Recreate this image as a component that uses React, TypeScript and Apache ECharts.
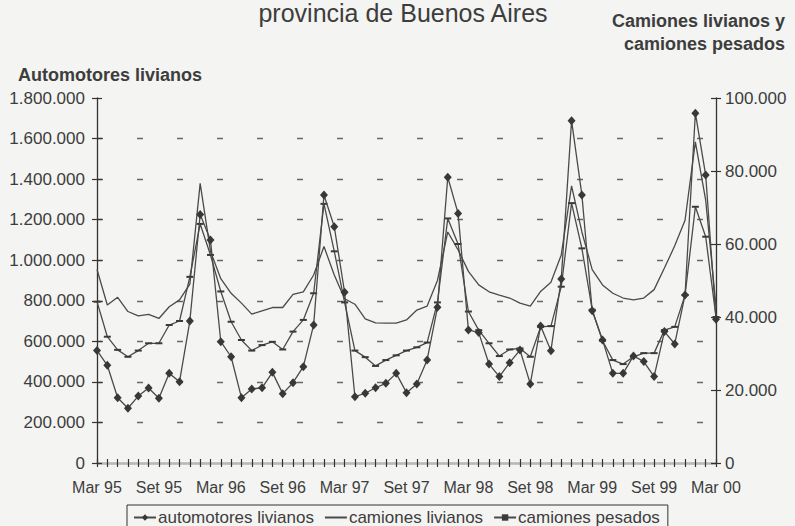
import React, { useEffect, useRef } from 'react';
import * as echarts from 'echarts';

const categories = [
  'Mar 95', 'Abr 95', 'May 95', 'Jun 95', 'Jul 95', 'Ago 95', 'Set 95', 'Oct 95', 'Nov 95', 'Dic 95', 'Ene 96', 'Feb 96',
  'Mar 96', 'Abr 96', 'May 96', 'Jun 96', 'Jul 96', 'Ago 96', 'Set 96', 'Oct 96', 'Nov 96', 'Dic 96', 'Ene 97', 'Feb 97',
  'Mar 97', 'Abr 97', 'May 97', 'Jun 97', 'Jul 97', 'Ago 97', 'Set 97', 'Oct 97', 'Nov 97', 'Dic 97', 'Ene 98', 'Feb 98',
  'Mar 98', 'Abr 98', 'May 98', 'Jun 98', 'Jul 98', 'Ago 98', 'Set 98', 'Oct 98', 'Nov 98', 'Dic 98', 'Ene 99', 'Feb 99',
  'Mar 99', 'Abr 99', 'May 99', 'Jun 99', 'Jul 99', 'Ago 99', 'Set 99', 'Oct 99', 'Nov 99', 'Dic 99', 'Ene 00', 'Feb 00',
  'Mar 00',
];

// left axis
const automotoresLivianos = [
  555000, 482000, 322000, 270000, 330000, 370000, 319000, 442000, 401000, 700000, 1225000, 1100000,
  598000, 524000, 322000, 365000, 371000, 447000, 342000, 396000, 475000, 681000, 1322000, 1165000,
  842000, 327000, 344000, 371000, 393000, 442000, 347000, 390000, 508000, 768000, 1409000, 1231000,
  656000, 643000, 488000, 426000, 495000, 557000, 390000, 676000, 554000, 907000, 1688000, 1322000,
  751000, 607000, 442000, 442000, 528000, 500000, 426000, 648000, 587000, 829000, 1725000, 1420000,
  709000,
];

// right axis
const camionesLivianos = [
  53000, 43300, 45400, 41500, 40300, 40700, 39600, 42800, 44700, 49000, 76600, 58000,
  50500, 46500, 43800, 40800, 41700, 42600, 42600, 46200, 46900, 51500, 59300, 51500,
  45000, 43500, 39500, 38400, 38300, 38300, 39200, 41900, 43000, 50000, 63300, 58400,
  52500, 48800, 46900, 46000, 45200, 43800, 43000, 47000, 49500, 57000, 75900, 63300,
  53000, 48800, 46500, 45200, 44700, 45200, 47500, 53400, 59500, 66500, 88000, 72000,
  43000,
];

const camionesPesados = [
  44200, 34600, 31000, 29100, 30800, 32800, 32800, 37800, 38900, 51000, 65500, 57000,
  47000, 38700, 33700, 30800, 32300, 33200, 31100, 36000, 39200, 46500, 71000, 58000,
  44000, 30800, 29000, 26600, 28200, 29500, 30800, 31700, 33000, 44000, 67000, 60000,
  41500, 36400, 32800, 29300, 31100, 31400, 29100, 37300, 37500, 48300, 71200, 58800,
  42000, 33500, 28200, 27100, 29100, 30100, 30100, 36400, 37300, 46000, 70200, 62000,
  40000,
];

const leftAxis = { min: 0, max: 1800000, interval: 200000 };
const rightAxis = { min: 0, max: 100000, interval: 20000 };

const seriesNames = ['automotores livianos', 'camiones livianos', 'camiones pesados'];

const fmt = (v: number) => String(v).replace(/\B(?=(\d{3})+(?!\d))/g, '.');

const FONT = "'Liberation Sans', Arial, Helvetica, sans-serif";
const TEXT = '#3d3d3d';
const AXIS = '#333333';
const LINE = '#4a4a4a';

export default function App() {
  const ref = useRef<HTMLDivElement>(null);

  useEffect(() => {
    if (!ref.current) return;
    const chart = echarts.init(ref.current, null, { renderer: 'svg' });
    const tickStyle = { color: AXIS, width: 1.2 };
    const option: any = {
      animation: false,
      backgroundColor: '#f4f4f2',
      textStyle: { fontFamily: FONT },
      grid: { left: 97, right: 79, top: 98, bottom: 63, containLabel: false },
      xAxis: [
        {
          type: 'category', data: categories, boundaryGap: false, position: 'bottom',
          axisLine: { show: true, lineStyle: { color: AXIS, width: 1.3 } },
          axisTick: { show: true, interval: 0, length: 4, inside: false, lineStyle: tickStyle },
          axisLabel: { interval: 5, margin: 16, fontSize: 16, color: TEXT, fontFamily: FONT },
          splitLine: { show: false },
        },
        {
          type: 'category', data: categories, boundaryGap: false, position: 'bottom',
          axisLine: { show: false },
          axisTick: { show: true, interval: 0, length: 4, inside: true, lineStyle: tickStyle },
          axisLabel: { show: false }, splitLine: { show: false },
        },
        {
          type: 'category', data: categories, boundaryGap: false, position: 'top',
          axisLine: { show: true, lineStyle: { color: '#b8b8b8', width: 1 } },
          axisTick: { show: false }, axisLabel: { show: false }, splitLine: { show: false },
        },
      ],
      yAxis: [
        {
          type: 'value', ...leftAxis, position: 'left',
          axisLine: { show: true, lineStyle: { color: AXIS, width: 1.3 } },
          axisTick: { show: true, length: 5, inside: false, lineStyle: tickStyle },
          axisLabel: { formatter: fmt, fontSize: 17, margin: 12, color: TEXT, fontFamily: FONT },
          splitLine: { show: true, showMaxLine: false, showMinLine: false, lineStyle: { type: [6, 34], color: '#666', width: 1.3 } },
        },
        {
          type: 'value', ...rightAxis, position: 'right',
          axisLine: { show: true, lineStyle: { color: AXIS, width: 1.3 } },
          axisTick: { show: true, length: 5, inside: false, lineStyle: tickStyle },
          axisLabel: { formatter: fmt, fontSize: 17, margin: 9, color: TEXT, fontFamily: FONT },
          splitLine: { show: false },
        },
        {
          type: 'value', ...leftAxis, position: 'left',
          axisLine: { show: false },
          axisTick: { show: true, length: 5, inside: true, lineStyle: tickStyle },
          axisLabel: { show: false }, splitLine: { show: false },
        },
        {
          type: 'value', ...rightAxis, position: 'right',
          axisLine: { show: false },
          axisTick: { show: true, length: 5, inside: true, lineStyle: tickStyle },
          axisLabel: { show: false }, splitLine: { show: false },
        },
      ],
      legend: {
        data: [
          { name: seriesNames[0] },
          { name: seriesNames[1], itemStyle: { opacity: 0 } },
          { name: seriesNames[2] },
        ],
        left: 127, top: 505,
        orient: 'horizontal',
        itemWidth: 22, itemHeight: 8, itemGap: 10,
        padding: [4, 8, 6, 6],
        borderColor: '#333', borderWidth: 1,
        textStyle: { fontSize: 17, color: TEXT, fontFamily: FONT, padding: [0, 0, 0, -3] },
      },
      series: [
        {
          name: seriesNames[0], type: 'line', xAxisIndex: 0, yAxisIndex: 0,
          data: automotoresLivianos,
          symbol: 'diamond', symbolSize: [8, 9], showSymbol: true, showAllSymbol: true,
          lineStyle: { color: LINE, width: 1.3 },
          itemStyle: { color: '#383838' },
          z: 5,
        },
        {
          name: seriesNames[1], type: 'line', xAxisIndex: 0, yAxisIndex: 1,
          data: camionesLivianos,
          symbol: 'none', showSymbol: false,
          lineStyle: { color: LINE, width: 1.3 },
          itemStyle: { color: LINE },
          z: 3,
        },
        {
          name: seriesNames[2], type: 'line', xAxisIndex: 0, yAxisIndex: 1,
          data: camionesPesados,
          symbol: 'rect', symbolSize: [7, 2], showSymbol: true, showAllSymbol: true,
          lineStyle: { color: LINE, width: 1.3 },
          itemStyle: { color: '#3a3a3a' },
          z: 4,
        },
      ],
      graphic: [
        {
          type: 'text', x: 403, y: 0,
          style: { text: 'provincia de Buenos Aires', fontSize: 25, fontFamily: FONT, fill: TEXT, align: 'center', verticalAlign: 'top' },
        },
        {
          type: 'text', x: 18, y: 75,
          style: { text: 'Automotores livianos', fontSize: 18, fontWeight: 'bold', fontFamily: FONT, fill: TEXT, align: 'left', verticalAlign: 'middle' },
        },
        {
          type: 'text', x: 785, y: 21,
          style: { text: 'Camiones livianos y', fontSize: 18, fontWeight: 'bold', fontFamily: FONT, fill: TEXT, align: 'right', verticalAlign: 'middle' },
        },
        {
          type: 'text', x: 785, y: 44,
          style: { text: 'camiones pesados', fontSize: 18, fontWeight: 'bold', fontFamily: FONT, fill: TEXT, align: 'right', verticalAlign: 'middle' },
        },
      ],
    };
    chart.setOption(option);
    return () => chart.dispose();
  }, []);

  return (
    <div
      ref={ref}
      style={{ position: 'absolute', left: 0, top: 0, width: 795, height: 526, overflow: 'hidden' }}
    />
  );
}
